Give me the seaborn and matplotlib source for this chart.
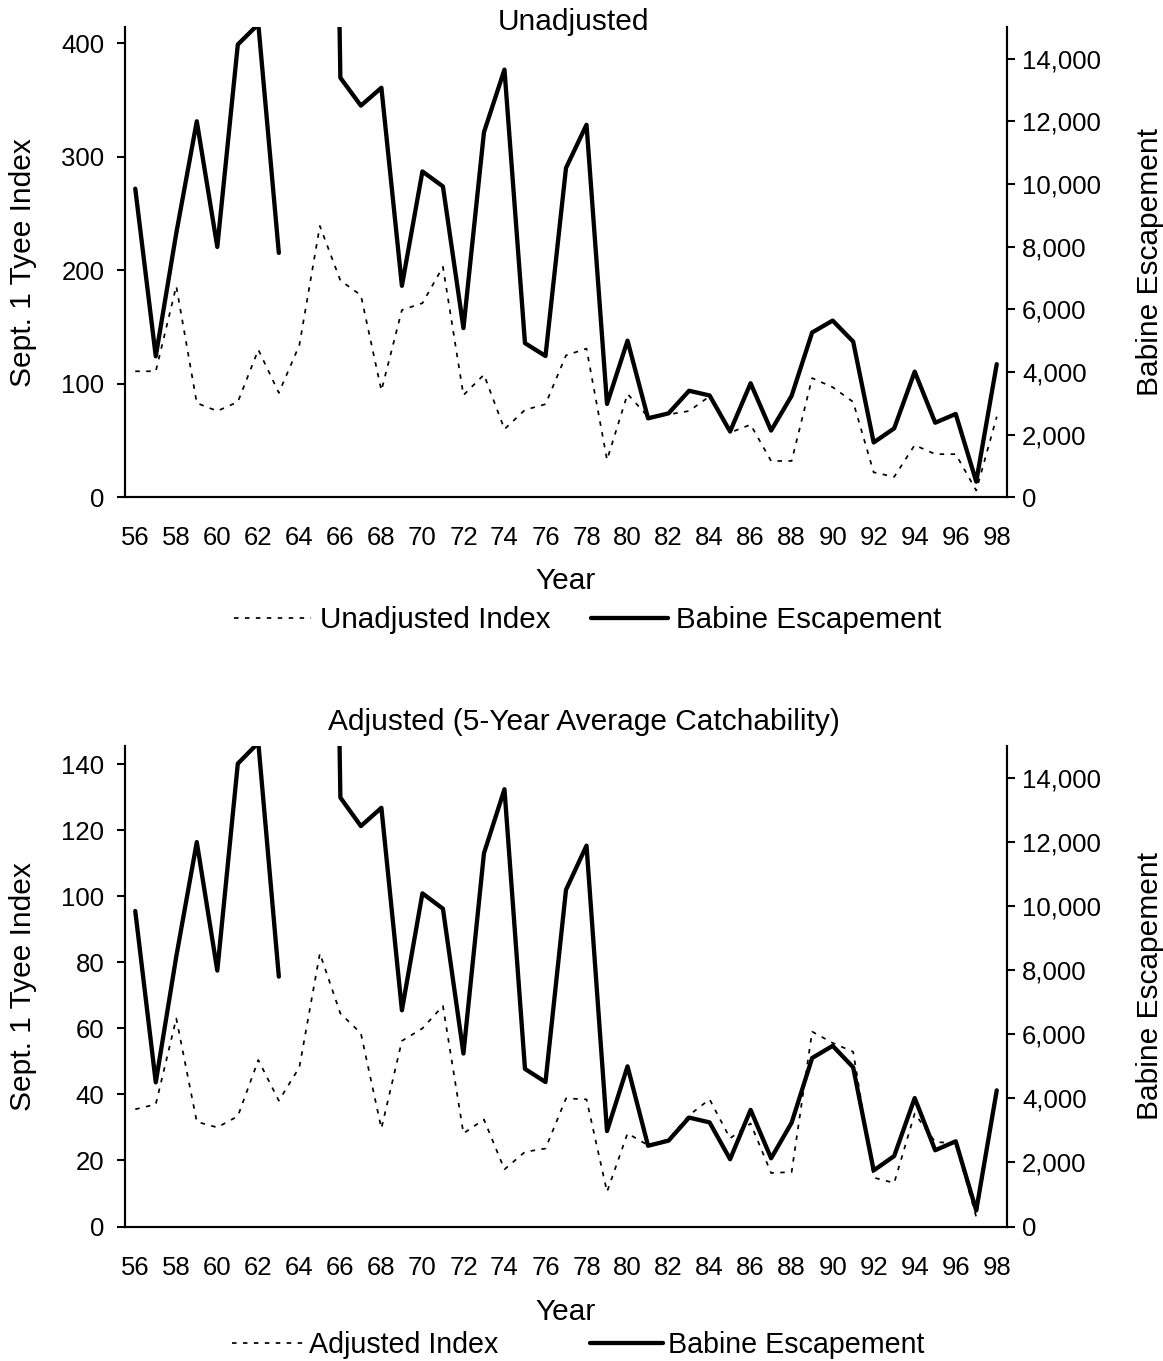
import numpy as np
import pandas as pd
import matplotlib
matplotlib.use("Agg")
import matplotlib.pyplot as plt
from matplotlib.lines import Line2D
from matplotlib.ticker import FuncFormatter, MultipleLocator, FixedLocator
import seaborn as sns

# ---------------- data ----------------
years = list(range(56, 99))
year_labels = [str(y) for y in range(56, 99, 2)]

escapement = [9850, 4500, 8430, 12000, 7990, 14450, 15100, 7800, np.nan, 55000,
              13390, 12500, 13070, 6750, 10400, 9920, 5400, 11650, 13650, 4920,
              4510, 10510, 11890, 2980, 5000, 2520, 2680, 3400, 3250, 2100,
              3640, 2130, 3240, 5260, 5640, 4970, 1750, 2200, 4010, 2380,
              2660, 500, 4250]

unadjusted_index = [111, 111, 186, 83, 76, 84, 130, 92, 134, 239,
                    191, 178, 94, 165, 171, 203, 90, 108, 60, 77,
                    82, 125, 131, 33, 91, 71, 73, 76, 89, 57,
                    64, 32, 32, 105, 97, 84, 22, 18, 46, 38,
                    38, 6, 71]

adjusted_index = [35.5, 37, 63, 31.7, 30, 33.4, 50.4, 38.1, 48.2, 82.7,
                  64.5, 58.5, 29.7, 56.2, 60, 66.8, 28.2, 32.4, 17.3, 22.6,
                  23.6, 38.8, 38.5, 10.5, 28.2, 24.6, 26.4, 33.7, 38.5, 26.7,
                  31.2, 16.2, 16.5, 59, 55.6, 52.9, 14.8, 13.2, 34.2, 25.6,
                  25.2, 2.9, 41]

panel_titles = ["Unadjusted", "Adjusted (5-Year Average Catchability)"]
index_names = ["Unadjusted Index", "Adjusted Index"]
esc_name = "Babine Escapement"

# ---------------- style ----------------
sns.set_style("white")
plt.rcParams['font.family'] = ['Liberation Sans', 'DejaVu Sans']
plt.rcParams.update({
    'axes.linewidth': 1.5,
    'text.color': 'black',
    'axes.labelcolor': 'black',
    'axes.edgecolor': 'black',
    'xtick.color': 'black',
    'ytick.color': 'black',
})

W, H = 1163, 1361
fig = plt.figure(figsize=(W / 100, H / 100), dpi=100)

TICK_FS = 18.5
LAB_FS = 21.5
DOT = (0, (2.6, 3.7))

esc_df = pd.DataFrame({"year": years, "esc": escapement})
esc_df["seg"] = (esc_df["year"] > 64).astype(int)
esc_df = esc_df.dropna()

panels = [
    dict(top=27.3, bottom=497.3, idx=unadjusted_index, ymax=414, step=100,
         title_x=573.5, title_base=30, leg_y=620, leg_x=588, leg_fs=21.3,
         hl=2.6, htp=0.3, cs=1.35),
    dict(top=746, bottom=1226.5, idx=adjusted_index, ymax=145.5, step=20,
         title_x=583.5, title_base=730, leg_y=1345, leg_x=578, leg_fs=20.6,
         hl=2.55, htp=0.17, cs=3.2),
]

for i, p in enumerate(panels):
    left, right = 125, 1007
    ax = fig.add_axes([left / W, (H - p["bottom"]) / H,
                       (right - left) / W, (p["bottom"] - p["top"]) / H])
    idx_df = pd.DataFrame({"year": years, "idx": p["idx"]})
    sns.lineplot(data=idx_df, x="year", y="idx", ax=ax, color="black",
                 lw=1.25, linestyle=DOT, legend=False)
    ax.set_ylim(0, p["ymax"])
    ax.set_xlim(55.5, 98.5)
    ax.yaxis.set_major_locator(MultipleLocator(p["step"]))

    ax2 = ax.twinx()
    sns.lineplot(data=esc_df, x="year", y="esc", units="seg", estimator=None,
                 ax=ax2, color="black", lw=3.1, legend=False)
    ax2.set_ylim(0, 15000)
    ax2.set_xlim(55.5, 98.5)
    ax2.yaxis.set_major_locator(MultipleLocator(2000))
    ax2.yaxis.set_major_formatter(FuncFormatter(lambda v, _: f"{int(v):,}"))

    for a in (ax, ax2):
        a.spines["top"].set_visible(False)
        for s in a.spines.values():
            s.set_linewidth(1.5)
            s.set_color("black")
        a.set_xlabel("")
        a.set_ylabel("")

    # x axis: category-style ticks at boundaries, labels at centers
    ax.xaxis.set_major_locator(FixedLocator(list(range(56, 99, 2))))
    ax.set_xticklabels(year_labels)
    ax.xaxis.set_minor_locator(FixedLocator(list(np.arange(55.5, 99, 1.0))))
    ax.tick_params(axis="x", which="major", length=0, pad=21, labelsize=TICK_FS)
    ax.tick_params(axis="x", which="minor", length=5.8, width=1.5, direction="out")
    ax.tick_params(axis="y", which="major", length=5.8, width=1.5, direction="out",
                   pad=9, labelsize=TICK_FS, left=True)
    ax2.tick_params(axis="y", which="major", length=5.8, width=1.5, direction="out",
                    pad=5, labelsize=TICK_FS, right=True)

    ax.set_ylabel("Sept. 1 Tyee Index", fontsize=LAB_FS)
    ax.yaxis.set_label_coords(-0.1, 0.5)
    ax2.set_ylabel("Babine Escapement", fontsize=LAB_FS, labelpad=25)
    ax.set_xlabel("Year", fontsize=LAB_FS)
    ax.xaxis.set_label_coords(0.5, -0.148)

    fig.text(p["title_x"] / W, 1 - p["title_base"] / H, panel_titles[i],
             fontsize=LAB_FS, ha="center", va="baseline")

    handles = [Line2D([], [], color="black", lw=1.25, linestyle=DOT),
               Line2D([], [], color="black", lw=3.1)]
    fig.legend(handles, [index_names[i], esc_name], loc="center",
               bbox_to_anchor=(p["leg_x"] / W, 1 - p["leg_y"] / H),
               ncol=2, frameon=False, fontsize=p["leg_fs"], handlelength=p["hl"],
               handletextpad=p["htp"], columnspacing=p["cs"], borderpad=0,
               borderaxespad=0)

fig.savefig("out.png", dpi=100)
